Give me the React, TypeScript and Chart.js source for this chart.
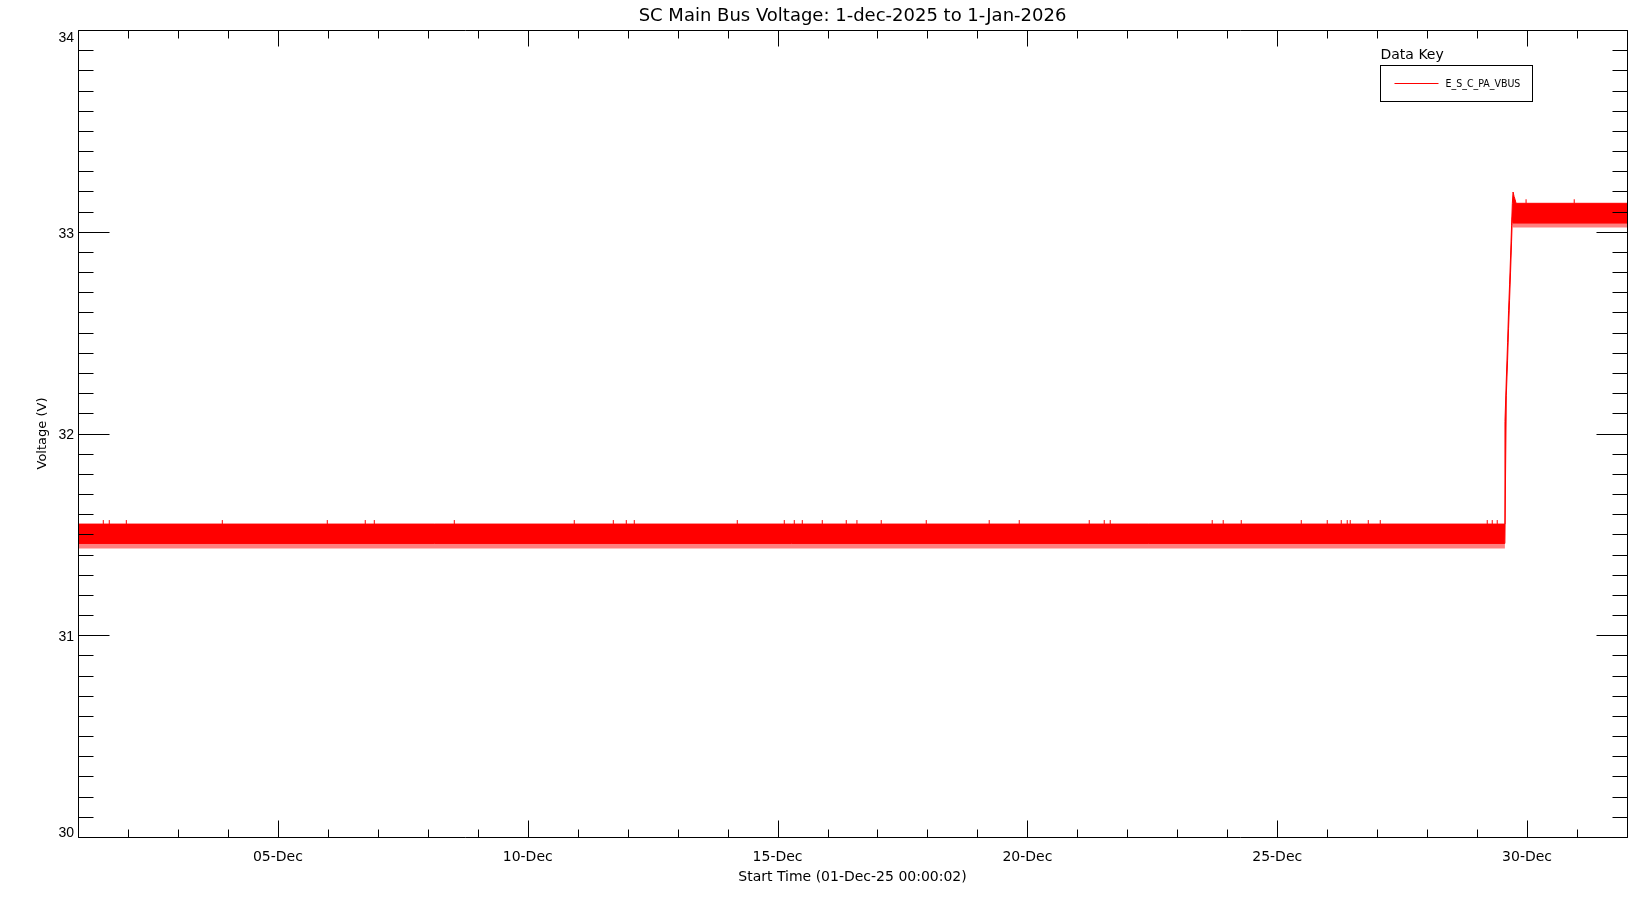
import React, { useEffect, useRef } from 'react';
import { Chart, registerables } from 'chart.js';

Chart.register(...registerables);

// ---------- texts ----------
const titleText = 'SC Main Bus Voltage: 1-dec-2025 to 1-Jan-2026';
const xAxisTitle = 'Start Time (01-Dec-25 00:00:02)';
const yAxisTitle = 'Voltage (V)';
const seriesLabel = 'E_S_C_PA_VBUS';
const legendTitle = 'Data Key';

// ---------- axes (x in days since 01-Dec-25 00:00) ----------
const xMin = 0;
const xMax = 31;
const xMinorStep = 1;
const xMajorDays = [4, 9, 14, 19, 24, 29];
const xMajorLabels = ['05-Dec', '10-Dec', '15-Dec', '20-Dec', '25-Dec', '30-Dec'];

const yMin = 30;
const yMax = 34;
const yMinorStep = 0.1;
const yMajorValues = [30, 31, 32, 33, 34];
const yMajorLabels = ['30', '31', '32', '33', '34'];

// ---------- data: envelope of the densely oscillating bus voltage ----------
const bandDays = [0, 28.556, 28.558, 28.585, 28.61, 28.63, 28.65, 28.67, 28.69, 28.705, 28.72, 28.74, 28.76, 28.78, 31];
const bandMax = [31.551, 31.551, 32.06, 32.27, 32.45, 32.61, 32.74, 32.88, 33.03, 33.14, 33.197, 33.175, 33.16, 33.141, 33.141];
const bandMin = [31.455, 31.455, 31.455, 32.19, 32.36, 32.52, 32.66, 32.8, 32.95, 33.07, 33.043, 33.043, 33.043, 33.043, 33.043];
const bandFloor = [31.43, 31.43, 31.43, 32.19, 32.36, 32.52, 32.66, 32.8, 32.95, 33.07, 33.021, 33.021, 33.021, 33.021, 33.021];

// isolated upward spikes above the band
const spikeDays = [
  0.506, 0.626, 0.967, 2.888, 4.989, 5.749, 5.93, 7.531, 9.932, 10.713, 10.973, 11.133,
  13.194, 14.135, 14.335, 14.495, 14.895, 15.375, 15.589, 16.075, 16.976, 18.236, 18.837,
  20.238, 20.538, 20.658, 22.699, 22.919, 23.28, 24.481, 25.001, 25.281, 25.401, 25.461,
  25.822, 26.062, 28.203, 28.303, 28.403, 28.98, 29.944,
];
const spikeTops = [
  31.571, 31.571, 31.571, 31.571, 31.571, 31.571, 31.571, 31.571, 31.571, 31.571, 31.571, 31.571,
  31.571, 31.571, 31.571, 31.571, 31.571, 31.571, 31.571, 31.571, 31.571, 31.571, 31.571,
  31.571, 31.571, 31.571, 31.571, 31.571, 31.571, 31.571, 31.571, 31.571, 31.571, 31.571,
  31.571, 31.571, 31.571, 31.571, 31.571, 33.161, 33.161,
];

const RED = '#ff0000';
const BLACK = '#000000';
const TICK_FONT = 'DejaVu Sans';
const NUM_FONT = 'Liberation Sans';

function bandTopAt(day: number): number {
  let idx = 0;
  for (let i = 0; i < bandDays.length; i++) if (bandDays[i] <= day) idx = i;
  return bandMax[idx];
}

const framePlugin = {
  id: 'idlFrame',
  afterDatasetsDraw(chart: any) {
    const { ctx, chartArea } = chart;
    const xs = chart.scales.x;
    const ys = chart.scales.y;
    const L = Math.round(chartArea.left) + 0.5;
    const R = Math.round(chartArea.right) + 0.5;
    const T = Math.round(chartArea.top) + 0.5;
    const B = Math.round(chartArea.bottom) + 0.5;
    ctx.save();
    ctx.strokeStyle = BLACK;
    ctx.lineWidth = 1;
    ctx.beginPath();
    ctx.rect(L, T, R - L, B - T);
    // y ticks (left and mirrored right)
    const ny = Math.round((yMax - yMin) / yMinorStep);
    for (let i = 0; i <= ny; i++) {
      const v = yMin + i * yMinorStep;
      const major = yMajorValues.some((m) => Math.abs(m - v) < 1e-6);
      const py = Math.round(ys.getPixelForValue(v)) + 0.5;
      const len = major ? 31 : 15;
      ctx.moveTo(L, py);
      ctx.lineTo(L + len, py);
      ctx.moveTo(R, py);
      ctx.lineTo(R - len, py);
    }
    // x ticks (bottom and mirrored top)
    const nx = Math.round((xMax - xMin) / xMinorStep);
    for (let i = 0; i <= nx; i++) {
      const d = xMin + i * xMinorStep;
      const major = xMajorDays.includes(d);
      const px = Math.round(xs.getPixelForValue(d)) + 0.5;
      ctx.moveTo(px, B);
      ctx.lineTo(px, B - (major ? 17 : 8));
      ctx.moveTo(px, T);
      ctx.lineTo(px, T + (major ? 16 : 8));
    }
    ctx.stroke();
    ctx.restore();
  },
};

const keyPlugin = {
  id: 'dataKey',
  afterDraw(chart: any) {
    const { ctx, chartArea } = chart;
    const boxL = Math.round(chartArea.right - 247.5) + 0.5;
    const boxR = Math.round(chartArea.right - 95) + 0.5;
    const boxT = Math.round(chartArea.top + 35) + 0.5;
    const boxB = Math.round(chartArea.top + 71) + 0.5;
    ctx.save();
    ctx.fillStyle = '#ffffff';
    ctx.fillRect(boxL, boxT, boxR - boxL, boxB - boxT);
    ctx.strokeStyle = BLACK;
    ctx.lineWidth = 1;
    ctx.strokeRect(boxL, boxT, boxR - boxL, boxB - boxT);
    ctx.fillStyle = BLACK;
    ctx.textBaseline = 'middle';
    ctx.textAlign = 'left';
    ctx.font = `14px "${TICK_FONT}"`;
    ctx.fillText(legendTitle, boxL, chartArea.top + 25.5);
    const ly = Math.round(chartArea.top + 53) + 0.5;
    ctx.strokeStyle = chart.data.datasets[0].borderColor;
    ctx.beginPath();
    ctx.moveTo(boxL + 14, ly);
    ctx.lineTo(boxL + 58, ly);
    ctx.stroke();
    ctx.font = '10.5px "DejaVu Sans Condensed", "DejaVu Sans"';
    ctx.fillText(chart.data.datasets[0].label, boxL + 65, ly + 0.5);
    ctx.restore();
  },
};

export default function App() {
  const canvasRef = useRef<HTMLCanvasElement | null>(null);

  useEffect(() => {
    if (!canvasRef.current) return;
    const bandPts = (vals: number[]) => bandDays.map((d, i) => ({ x: d, y: vals[i] }));
    const spikePts: any[] = [];
    spikeDays.forEach((d, i) => {
      spikePts.push({ x: d, y: bandTopAt(d) });
      spikePts.push({ x: d, y: spikeTops[i] });
      spikePts.push({ x: d, y: null });
    });

    const chart = new Chart(canvasRef.current, {
      type: 'line',
      data: {
        datasets: [
          {
            label: seriesLabel,
            data: bandPts(bandMax),
            borderColor: RED,
            backgroundColor: RED,
            borderWidth: 1,
            pointRadius: 0,
            tension: 0,
            fill: false,
          },
          {
            label: seriesLabel + ' min',
            data: bandPts(bandMin),
            borderColor: RED,
            backgroundColor: RED,
            borderWidth: 1,
            pointRadius: 0,
            tension: 0,
            fill: '-1',
          },
          {
            label: seriesLabel + ' dips',
            data: bandPts(bandFloor),
            borderColor: 'rgba(255,0,0,0)',
            backgroundColor: 'rgba(255,0,0,0.5)',
            borderWidth: 0,
            pointRadius: 0,
            tension: 0,
            fill: '-1',
          },
          {
            label: seriesLabel + ' spikes',
            data: spikePts,
            borderColor: RED,
            borderWidth: 1,
            pointRadius: 0,
            tension: 0,
            spanGaps: false,
            fill: false,
          },
        ],
      },
      options: {
        animation: false,
        responsive: false,
        maintainAspectRatio: false,
        events: [],
        layout: { padding: { left: 0, right: 23, top: 0, bottom: 0 } },
        plugins: {
          legend: { display: false },
          tooltip: { enabled: false },
          title: {
            display: true,
            text: titleText,
            color: BLACK,
            fullSize: false,
            font: { family: TICK_FONT, size: 18, weight: 'normal' },
            padding: { top: 5.4, bottom: 3 },
          },
        },
        scales: {
          x: {
            type: 'linear',
            position: 'bottom',
            min: xMin,
            max: xMax,
            grid: { display: false, drawTicks: false },
            border: { display: false },
            afterBuildTicks: (s: any) => {
              s.ticks = xMajorDays.map((v) => ({ value: v }));
            },
            afterFit: (s: any) => {
              s.height = 63;
            },
            ticks: {
              autoSkip: false,
              maxRotation: 0,
              minRotation: 0,
              padding: 11.5,
              color: BLACK,
              font: { family: TICK_FONT, size: 14 },
              callback: (v: any) => {
                const i = xMajorDays.indexOf(Number(v));
                return i >= 0 ? xMajorLabels[i] : '';
              },
            },
            title: {
              display: true,
              text: xAxisTitle,
              color: BLACK,
              font: { family: TICK_FONT, size: 14 },
              padding: { top: 0, bottom: 14.5 },
            },
          },
          y: {
            type: 'linear',
            position: 'left',
            min: yMin,
            max: yMax,
            grid: { display: false, drawTicks: false },
            border: { display: false },
            afterBuildTicks: (s: any) => {
              s.ticks = yMajorValues.map((v) => ({ value: v }));
            },
            afterFit: (s: any) => {
              s.width = 78;
            },
            ticks: {
              autoSkip: false,
              padding: 4,
              labelOffset: 2,
              color: BLACK,
              font: (c: any) => {
                const v = c.tick ? c.tick.value : null;
                const lh = v === yMax ? '11.4px' : v === yMin ? '12.6px' : 1.2;
                return { family: NUM_FONT, size: 14, lineHeight: lh };
              },
              callback: (v: any) => {
                const n = Number(v);
                const i = yMajorValues.indexOf(n);
                if (i < 0) return '';
                // IDL nudges the end labels inside the axis range
                if (n === yMax) return ['', yMajorLabels[i]];
                if (n === yMin) return [yMajorLabels[i], ''];
                return yMajorLabels[i];
              },
            },
            title: {
              display: true,
              text: yAxisTitle,
              color: BLACK,
              font: { family: TICK_FONT, size: 13 },
              padding: { top: 35, bottom: 0 },
            },
          },
        },
      } as any,
      plugins: [framePlugin, keyPlugin],
    });
    return () => chart.destroy();
  }, []);

  return (
    <div style={{ position: 'fixed', left: 0, top: 0, width: 1650, height: 900, background: '#ffffff' }}>
      <canvas ref={canvasRef} width={1650} height={900} style={{ display: 'block' }} />
    </div>
  );
}
